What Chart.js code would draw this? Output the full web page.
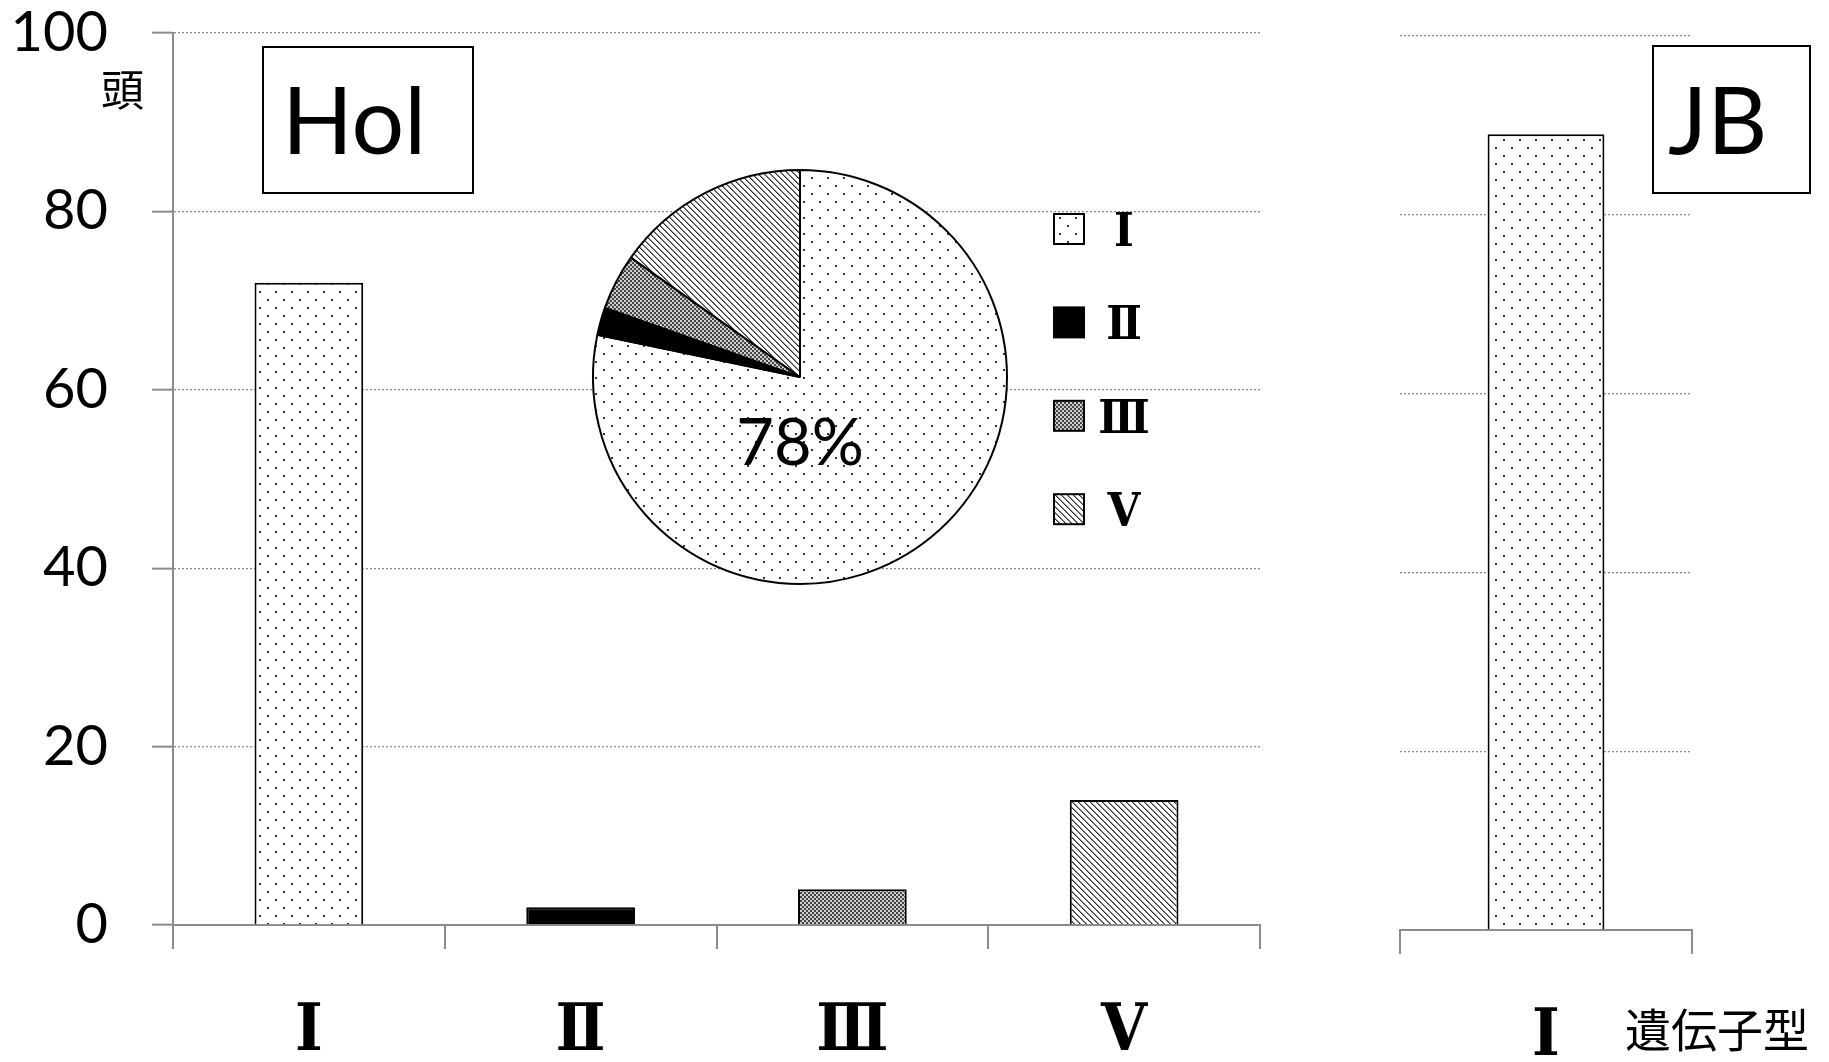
<!DOCTYPE html>
<html><head><meta charset="utf-8">
<script src="https://cdn.jsdelivr.net/npm/chart.js@4.4.1/dist/chart.umd.min.js"></script>
<style>
html,body{margin:0;padding:0;background:#fff;width:1829px;height:1062px;overflow:hidden;}
.wrap{position:absolute;}
.lbl{position:absolute;white-space:nowrap;color:#000;line-height:1;}
.frame{position:absolute;border:2px solid #000;box-sizing:border-box;background:#fff;}
</style></head><body>
<div class="wrap" style="left:0;top:0;width:1300px;height:1062px"><canvas id="hol"></canvas></div>
<div class="wrap" style="left:1300px;top:0;width:529px;height:1062px"><canvas id="jb"></canvas></div>
<div class="wrap" style="left:560px;top:150px;width:640px;height:460px"><canvas id="pie"></canvas></div>

<div class="lbl" style="left:101px;top:66px;font-family:'Noto Sans CJK JP';font-size:43px">頭</div>
<div class="frame" style="left:262px;top:46px;width:212px;height:148px"></div>
<div class="lbl" style="left:282px;top:72px;font-family:Lato;font-size:93px">Hol</div>
<div class="frame" style="left:1652px;top:45px;width:159px;height:149px"></div>
<div class="lbl" style="left:1668px;top:72px;font-family:Lato;font-size:93px">JB</div>
<div class="lbl" style="left:1625px;top:1004px;font-family:'Noto Sans CJK JP';font-size:46px">遺伝子型</div>

<script>
// ---- data ----
const holCategories = ['Ⅰ', 'Ⅱ', 'Ⅲ', 'Ⅴ'];
const holCounts = [72, 2, 4, 14];
const jbCategories = ['Ⅰ'];
const jbCounts = [89];
const yTickValues = [0, 20, 40, 60, 80, 100];

// ---- patterns ----
function makeTile(w, h, draw) {
  const c = document.createElement('canvas'); c.width = w; c.height = h;
  const g = c.getContext('2d'); draw(g, w, h);
  return g.createPattern(c, 'repeat');
}
const dots = makeTile(16, 16, (g, w, h) => {
  g.fillStyle = '#fff'; g.fillRect(0, 0, w, h);
  g.fillStyle = '#333'; g.fillRect(3, 3, 2, 2); g.fillRect(11, 11, 2, 2);
});
const checker = makeTile(4, 4, (g) => {
  g.fillStyle = '#cfcfcf'; g.fillRect(0, 0, 4, 4);
  g.fillStyle = '#444'; g.fillRect(0, 0, 2, 2); g.fillRect(2, 2, 2, 2);
});
const stripes = makeTile(6, 6, (g, w, h) => {
  const img = g.createImageData(w, h);
  for (let y = 0; y < h; y++) for (let x = 0; x < w; x++) {
    const d = ((x - y) % 6 + 6) % 6;
    const v = d === 0 ? 50 : (d === 1 ? 140 : 255);
    const i = (y * w + x) * 4;
    img.data[i] = img.data[i + 1] = img.data[i + 2] = v; img.data[i + 3] = 255;
  }
  g.putImageData(img, 0, 0);
});
const fills = [dots, '#000', checker, stripes];

const GRAY = '#8c8c8c';
const ROMAN_FONT = "'DejaVu Serif Condensed', 'DejaVu Serif', 'Noto Sans CJK JP'";
Chart.defaults.font.family = 'Lato';

function zeroPad(s) { s.paddingTop = 0; s.paddingBottom = 0; s.paddingLeft = 0; s.paddingRight = 0; }
function yScale(showTicks, width) {
  return {
    min: 0, max: 100,
    afterBuildTicks(s) { s.ticks = yTickValues.map(v => ({ value: v })); },
    ticks: { display: showTicks, font: { family: 'Lato', size: 56, lineHeight: 1 }, color: '#000', padding: 44 },
    grid: { color: GRAY, lineWidth: 1.3, drawTicks: showTicks, tickLength: 21, tickColor: GRAY, tickWidth: 2, tickBorderDash: [] },
    border: { display: showTicks, color: GRAY, width: 2, dash: [2, 2] },
    afterFit(s) { s.width = width; zeroPad(s); }
  };
}
function xScale(height) {
  return {
    type: 'category', offset: true,
    grid: { display: true, offset: true, drawOnChartArea: false, drawTicks: true, tickLength: 24, tickColor: GRAY, tickWidth: 2, color: GRAY, lineWidth: 2 },
    border: { display: true, color: GRAY, width: 2 },
    ticks: { font: { family: ROMAN_FONT, size: 66, weight: 'bold', lineHeight: 1 }, color: '#000', padding: 51, maxRotation: 0, autoSkip: false },
    afterFit(s) { s.height = height; zeroPad(s); }
  };
}
const common = {
  responsive: true, maintainAspectRatio: false, animation: false, events: [],
  plugins: { legend: { display: false }, tooltip: { enabled: false } }
};

new Chart(document.getElementById('hol'), {
  type: 'bar',
  data: { labels: holCategories, datasets: [{ data: holCounts, backgroundColor: fills, borderColor: '#000', borderWidth: 2, barPercentage: 0.8, categoryPercentage: 0.5 }] },
  options: Object.assign({}, common, {
    layout: { padding: { left: 0, top: 33, right: 40, bottom: 0 } },
    scales: { x: xScale(137), y: yScale(true, 173) }
  })
});

new Chart(document.getElementById('jb'), {
  type: 'bar',
  data: { labels: jbCategories, datasets: [{ data: jbCounts, backgroundColor: [dots], borderColor: '#000', borderWidth: 2, barPercentage: 0.8, categoryPercentage: 0.5 }] },
  options: Object.assign({}, common, {
    layout: { padding: { left: 0, top: 36, right: 137, bottom: 0 } },
    scales: { x: xScale(132), y: yScale(false, 100) }
  })
});

const pieOverlay = {
  id: 'pieOverlay',
  afterDraw(chart) {
    const ctx = chart.ctx;
    const arc = chart.getDatasetMeta(0).data[0];
    const ds = chart.data.datasets[0];
    const total = ds.data.reduce((a, b) => a + b, 0);
    const pct = Math.round(ds.data[0] / total * 100) + '%';
    ctx.save();
    ctx.fillStyle = '#000'; ctx.textAlign = 'center'; ctx.textBaseline = 'alphabetic';
    ctx.font = '65px Lato';
    ctx.fillText(pct, arc.x, arc.y + 88);
    chart.data.labels.forEach((lab, i) => {
      const bx = 494, by = 64 + i * 93.4;
      ctx.fillStyle = ds.backgroundColor[i];
      ctx.fillRect(bx, by, 30, 30);
      ctx.lineWidth = 2; ctx.strokeStyle = '#000';
      ctx.strokeRect(bx, by, 30, 30);
      ctx.fillStyle = '#000';
      ctx.font = "bold 47px " + ROMAN_FONT;
      ctx.fillText(lab, 564, by + 32);
    });
    ctx.restore();
  }
};

new Chart(document.getElementById('pie'), {
  type: 'pie',
  data: { labels: holCategories, datasets: [{ data: holCounts, backgroundColor: fills, borderColor: '#000', borderWidth: 2 }] },
  options: Object.assign({}, common, {
    radius: 207,
    layout: { padding: { left: 0, top: 0, right: 160, bottom: 6 } }
  }),
  plugins: [pieOverlay]
});
</script>
</body></html>
